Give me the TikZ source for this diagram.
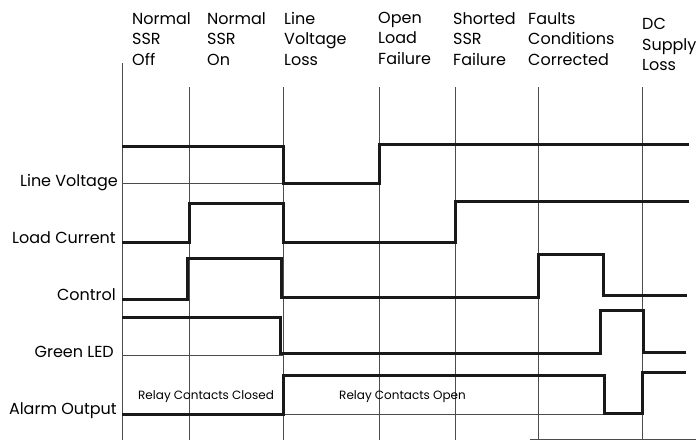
\documentclass[tikz,border=0pt]{standalone}
\usepackage{fontspec}
\setmainfont{Poppins}

\begin{document}
\begin{tikzpicture}[x=1pt,y=-1pt,
    grid/.style={line width=0.9pt, black!70},
    signal/.style={line width=3pt, black!90, line join=miter},
    sig/.style={anchor=base east, inner sep=0pt, font=\fontsize{16}{18}\selectfont},
    event/.style={anchor=north west, inner sep=0pt, align=left, font=\fontsize{16}{20.5}\selectfont},
    relay/.style={anchor=base west, inner sep=0pt, font=\fontsize{12}{14}\selectfont}]

\useasboundingbox (0,0) rectangle (696,440);

% Events
\node[event] (off) at (132,12) {Normal\\SSR\\Off};
\node[event] (on) at (207,12) {Normal\\SSR\\On};
\node[event] (loss) at (284,12) {Line\\Voltage\\Loss};
\node[event] (open) at (378,12) {Open\\Load\\Failure};
\node[event] (short) at (453,12) {Shorted\\SSR\\Failure};
\node[event] (fixed) at (528,12) {Faults\\Conditions\\Corrected};
\node[event] (dc) at (642,18) {DC\\Supply\\Loss};

% Time markers
\draw[grid] (122,63) -- (122,440);
\foreach \x in {189,283,379,455,538,642}
    \draw[grid] (\x,87) -- (\x,440);

% Reference lines
\draw[grid] (122,183) -- (283,183);
\draw[grid] (122,355) -- (283,355);
\draw[grid] (283,414) -- (604,414);
\draw[grid] (530,439) -- (696,439);

% Signal names
\node[sig] (lv) at (118,186) {Line Voltage};
\node[sig] (lc) at (116,243) {Load Current};
\node[sig] (ctl) at (116,300) {Control};
\node[sig] (led) at (114,357) {Green LED};
\node[sig] (alarm) at (117,414) {Alarm Output};

% Waveforms
\draw[signal] (122,146) -- (283,146) -- (283,183) -- (379,183) -- (379,144) -- (689,144);
\draw[signal] (122,242) -- (189,242) -- (189,203) -- (283,203) -- (283,242)
    -- (455,242) -- (455,201) -- (689,201);
\draw[signal] (122,299) -- (187,299) -- (187,258) -- (281,258) -- (281,297)
    -- (538,297) -- (538,254) -- (603,254) -- (603,295) -- (687,295);
\draw[signal] (122,317) -- (280,317) -- (280,353) -- (600,353) -- (600,310)
    -- (643,310) -- (643,352) -- (686,352);
\draw[signal] (122,414) -- (283,414) -- (283,375) -- (604,375) -- (604,413)
    -- (642,413) -- (642,372) -- (686,372);

% Relay state
\node[relay] (closed) at (138,399) {Relay Contacts Closed};
\node[relay] (opened) at (339,399) {Relay Contacts Open};

\end{tikzpicture}
\end{document}
